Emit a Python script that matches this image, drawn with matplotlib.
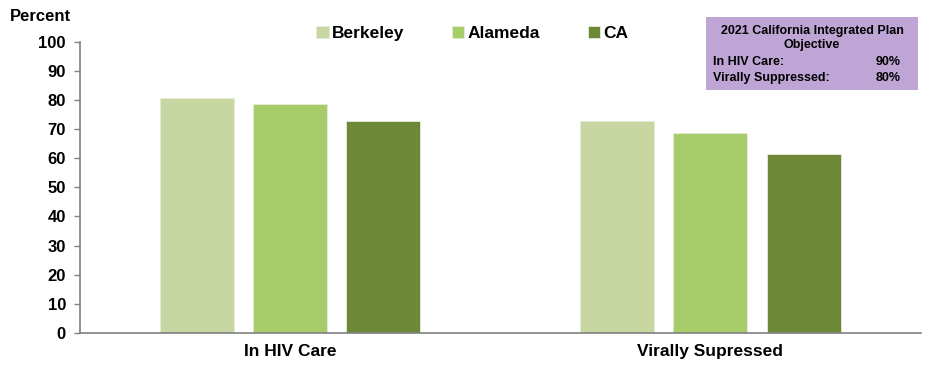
import matplotlib.pyplot as plt
import numpy as np

plt.rcParams['font.family'] = ['Liberation Sans', 'DejaVu Sans']
plt.rcParams['font.weight'] = 'bold'

categories = ['In HIV Care', 'Virally Supressed']
series = ['Berkeley', 'Alameda', 'CA']
berkeley = [80.8, 72.9]
alameda = [78.7, 68.7]
ca = [72.7, 61.5]
colors = ['#C8D6A2', '#A6CD69', '#6D8937']

fig = plt.figure(figsize=(9.28, 3.67), dpi=100)
ax = fig.add_axes([0.086, 0.093, 0.906, 0.793])

x = np.arange(len(categories))
w = 0.176
step = 0.222
for i, (vals, name) in enumerate(zip([berkeley, alameda, ca], series)):
    ax.bar(x + (i - 1) * step, vals, w, color=colors[i], label=name,
           edgecolor='#E6EDD6', linewidth=0.6)

ax.set_xlim(-0.5, 1.5)
ax.set_ylim(0, 100)
ax.set_yticks(range(0, 101, 10))
ax.set_xticks(x)
ax.set_xticklabels(categories, fontsize=12.5, fontweight='bold')
ax.tick_params(axis='x', length=0, pad=8)
ax.tick_params(axis='y', labelsize=12, length=4, color='#808080', width=1, pad=6)
for s in ['top', 'right']:
    ax.spines[s].set_visible(False)
ax.spines['left'].set_color('#808080')
ax.spines['bottom'].set_color('#808080')
ax.spines['left'].set_linewidth(1.2)
ax.spines['bottom'].set_linewidth(1.2)

fig.text(0.011, 0.955, 'Percent', fontsize=12, fontweight='bold', va='center')

ax.legend(loc='center', bbox_to_anchor=(0.467, 1.03), ncol=3, frameon=False,
          handlelength=0.7, handleheight=0.7, columnspacing=2.75,
          handletextpad=0.2, prop={'weight': 'bold', 'size': 12.5})

box_l, box_b, box_w, box_h = 706 / 928, 1 - 90 / 367, 212 / 928, 73 / 367
fig.patches.append(plt.Rectangle((box_l, box_b), box_w, box_h, transform=fig.transFigure,
                                 facecolor='#BFA5D5', edgecolor='none'))
fs = 9
fig.text(box_l + box_w / 2, 1 - 31 / 367, '2021 California Integrated Plan', ha='center', va='center', fontsize=fs)
fig.text(box_l + box_w / 2, 1 - 45 / 367, 'Objective', ha='center', va='center', fontsize=fs)
fig.text(713 / 928, 1 - 62 / 367, 'In HIV Care:', ha='left', va='center', fontsize=fs)
fig.text(713 / 928, 1 - 78 / 367, 'Virally Suppressed:', ha='left', va='center', fontsize=fs)
fig.text(901 / 928, 1 - 62 / 367, '90%', ha='right', va='center', fontsize=fs)
fig.text(901 / 928, 1 - 78 / 367, '80%', ha='right', va='center', fontsize=fs)

fig.savefig('out.png', dpi=100)
